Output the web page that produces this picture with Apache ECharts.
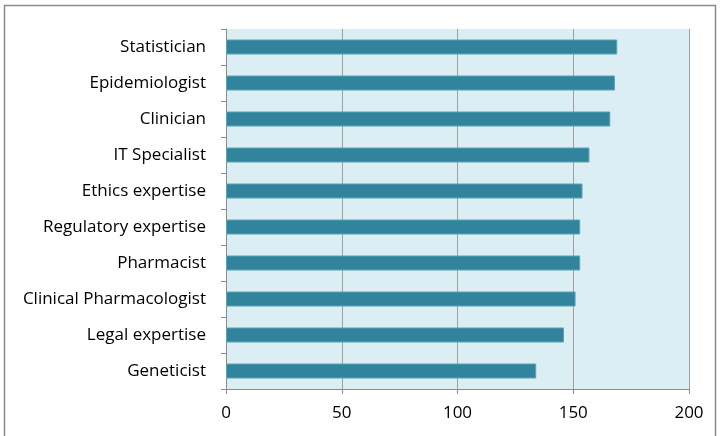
<!DOCTYPE html>
<html><head><meta charset="utf-8">
<script src="https://cdn.jsdelivr.net/npm/echarts@6/dist/echarts.min.js"></script>
<style>html,body{margin:0;padding:0;background:#fff}#c{width:720px;height:436px}</style>
</head><body><div id="c"></div>
<script>
const categories = ["Statistician","Epidemiologist","Clinician","IT Specialist","Ethics expertise","Regulatory expertise","Pharmacist","Clinical Pharmacologist","Legal expertise","Geneticist"];
const values = [169,168,166,157,154,153,153,151,146,134];
const xTicks = {min:0, max:200, interval:50};

const chart = echarts.init(document.getElementById('c'), null, {renderer:'canvas'});
chart.setOption({
  animation:false,
  graphic:[{type:'rect', shape:{x:4.5,y:5.5,width:711,height:440}, style:{fill:'none', stroke:'#8a8a8a', lineWidth:1.5}, silent:true}],
  grid:{left:226, right:31, top:29, bottom:47, show:true, backgroundColor:'#DAEEF3', borderWidth:0},
  xAxis:{type:'value', min:xTicks.min, max:xTicks.max, interval:xTicks.interval,
    axisLine:{show:true, lineStyle:{color:'#8c8c8c', width:1}},
    axisTick:{show:true, length:5, lineStyle:{color:'#8c8c8c'}},
    splitLine:{show:true, lineStyle:{color:'#a0a0a0', width:1}},
    axisLabel:{color:'#000', fontFamily:'Open Sans', fontSize:17, margin:16}},
  yAxis:{type:'category', data:categories, inverse:true,
    axisLine:{show:true, lineStyle:{color:'#8c8c8c', width:1}},
    axisTick:{show:true, length:5, interval:0, lineStyle:{color:'#8c8c8c'}},
    axisLabel:{color:'#000', fontFamily:'Open Sans', fontSize:17, margin:20}},
  series:[{type:'bar', data:values, barWidth:15,
    itemStyle:{color:'#31849B', borderColor:'#5aa3b7', borderWidth:1}}]
});
</script></body></html>
